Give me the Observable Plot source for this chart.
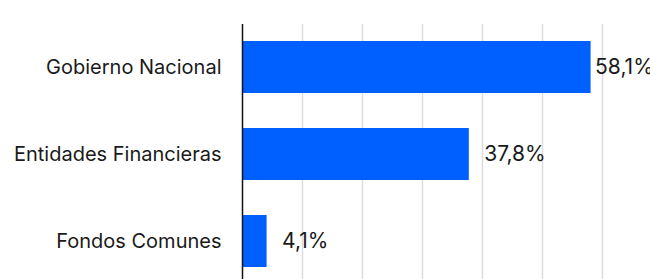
<!DOCTYPE html>
<html>
<head>
<meta charset="utf-8">
<script src="https://cdn.jsdelivr.net/npm/d3@7"></script>
<script src="https://cdn.jsdelivr.net/npm/@observablehq/plot@0.6"></script>
<style>
  html, body { margin: 0; padding: 0; background: #fff; overflow: hidden; }
  #chart svg { display: block; overflow: visible; }
</style>
</head>
<body>
<div id="chart"></div>
<script>
const categories = ["Gobierno Nacional", "Entidades Financieras", "Fondos Comunes"];
const values = [58.1, 37.8, 4.1];
const valueLabels = ["58,1%", "37,8%", "4,1%"];
const gridTicks = [10, 20, 30, 40, 50, 60];

const data = categories.map((c, i) => ({category: c, value: values[i], label: valueLabels[i]}));

const chart = Plot.plot({
  width: 650,
  height: 279,
  marginLeft: 242,
  marginRight: 0,
  marginTop: 24,
  marginBottom: 0,
  style: {fontFamily: "Inter, 'Liberation Sans', sans-serif", background: "#fff", overflow: "visible"},
  x: {domain: [0, 68], axis: null},
  y: {domain: categories, range: [24, 285], paddingInner: 0.4, paddingOuter: 0.2, align: 0.5, axis: null},
  marks: [
    Plot.gridX(gridTicks, {stroke: "#dcdcdc", strokeOpacity: 1, strokeWidth: 1.5}),
    Plot.barX(data, {x: "value", y: "category", fill: "#0060ff"}),
    Plot.ruleX([0], {stroke: "#111", strokeWidth: 1.5}),
    Plot.text(data, {x: 0, y: "category", text: "category", textAnchor: "end", dx: -21, fontSize: 20, fill: "#1a1a1a"}),
    Plot.text(data.filter(d => d.value > 50), {x: "value", y: "category", text: "label", textAnchor: "start", dx: 4, fontSize: 21, fill: "#1a1a1a"}),
    Plot.text(data.filter(d => d.value <= 50), {x: "value", y: "category", text: "label", textAnchor: "start", dx: 15, fontSize: 21, fill: "#1a1a1a"})
  ]
});
document.getElementById("chart").appendChild(chart);
</script>
</body>
</html>
